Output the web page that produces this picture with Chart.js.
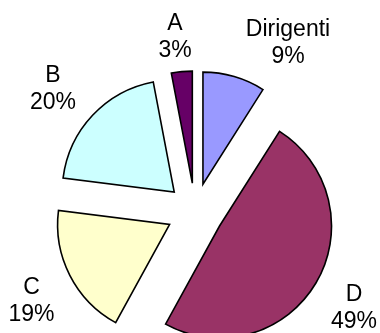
<!DOCTYPE html>
<html>
<head>
<meta charset="utf-8">
<script src="https://cdn.jsdelivr.net/npm/chart.js@4/dist/chart.umd.min.js"></script>
<style>
  html, body { margin: 0; padding: 0; background: #ffffff; }
  #wrap { width: 380px; height: 333px; }
</style>
</head>
<body>
<div id="wrap"><canvas id="pie" width="380" height="333"></canvas></div>
<script>
// Staff breakdown by category (percent of total)
const categories = ['Dirigenti', 'D', 'C', 'B', 'A'];
const shares = [9, 49, 19, 20, 3];
const sliceColors = ['#9999FF', '#993366', '#FFFFCC', '#CCFFFF', '#660066'];

// How far each slice is pulled out from the centre, in pixels
const EXPLODE = 28.5;

// Where each two-line data label sits: centre x and first baseline y
const labelLayout = {
  'Dirigenti': { x: 288, y: 36 },
  'D': { x: 354, y: 301 },
  'C': { x: 31.5, y: 294 },
  'B': { x: 53, y: 81.5 },
  'A': { x: 175, y: 29.5 }
};
const LABEL_FONT = '23px "Liberation Sans", Arial, sans-serif';
const LINE_GAP = 27;

// Push every arc outwards along its own bisector (exploded pie)
const explodePlugin = {
  id: 'explode',
  afterDatasetsUpdate(chart) {
    chart.getSortedVisibleDatasetMetas().forEach(meta => {
      meta.data.forEach(arc => {
        const mid = (arc.startAngle + arc.endAngle) / 2;
        arc.x += Math.cos(mid) * EXPLODE;
        arc.y += Math.sin(mid) * EXPLODE;
      });
    });
  }
};

// Category name and percentage written outside each slice
const labelPlugin = {
  id: 'sliceLabels',
  afterDatasetsDraw(chart) {
    const ctx = chart.ctx;
    const values = chart.data.datasets[0].data;
    const total = values.reduce((a, b) => a + b, 0);
    ctx.save();
    ctx.font = LABEL_FONT;
    ctx.fillStyle = '#000000';
    ctx.textAlign = 'center';
    ctx.textBaseline = 'alphabetic';
    chart.data.labels.forEach((name, i) => {
      const pos = labelLayout[name];
      const pct = Math.round(values[i] / total * 100) + '%';
      ctx.fillText(name, pos.x, pos.y);
      ctx.fillText(pct, pos.x, pos.y + LINE_GAP);
    });
    ctx.restore();
  }
};

new Chart(document.getElementById('pie'), {
  type: 'pie',
  data: {
    labels: categories,
    datasets: [{
      data: shares,
      backgroundColor: sliceColors,
      borderColor: '#000000',
      borderWidth: 1.6,
      borderJoinStyle: 'miter'
    }]
  },
  options: {
    responsive: false,
    animation: false,
    events: [],
    radius: 112,
    rotation: 0,
    layout: { padding: { left: 10, right: 0, top: 90, bottom: 0 } },
    plugins: {
      legend: { display: false },
      tooltip: { enabled: false },
      title: { display: false }
    }
  },
  plugins: [explodePlugin, labelPlugin]
});
</script>
</body>
</html>
